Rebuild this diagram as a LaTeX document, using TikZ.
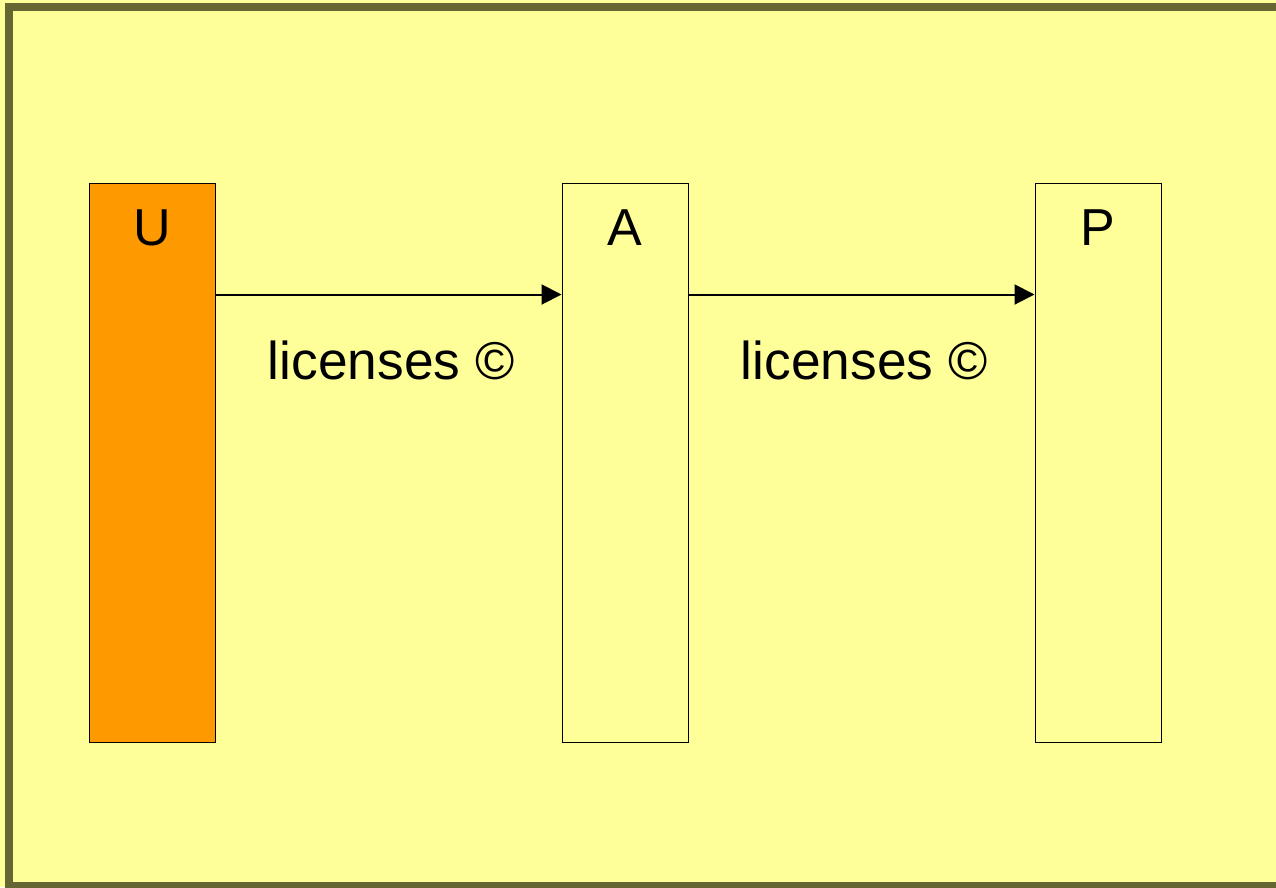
\documentclass[tikz,border=0pt]{standalone}
\usepackage{fontspec}
\setmainfont{Liberation Sans}
\usetikzlibrary{arrows.meta, positioning, calc}

\definecolor{paleyellow}{HTML}{FFFF99}
\definecolor{licorange}{HTML}{FF9900}
\definecolor{frameolive}{HTML}{666633}

\tikzset{
  party/.style={draw, line width=1.5pt, minimum width=126pt, minimum height=559pt, inner sep=0pt},
  partyname/.style={font=\fontsize{52}{52}\selectfont, inner sep=0pt, anchor=north},
  licence/.style={font=\fontsize{53.3}{53.3}\selectfont, inner sep=0pt, anchor=base},
  grant/.style={line width=2pt, -{Triangle[length=20pt,width=20pt]}}
}

\begin{document}
\begin{tikzpicture}[x=1pt, y=-1pt]
                        \useasboundingbox (0,0) rectangle (1276,887);
                        \fill[paleyellow] (0,0) rectangle (1276,887);
                        \begin{scope}
                        \clip (0,0) rectangle (1276,887);
                        \draw[frameolive, line width=8pt] (9,7) rectangle (1300,886);
                        \end{scope}

                        \node[party, fill=licorange, anchor=north west] (U) at (88.5,182.5) {};
                        \node[party, fill=paleyellow, anchor=north west] (A) at (561.5,182.5) {};
                        \node[party, fill=paleyellow, anchor=north west] (P) at (1034.5,182.5) {};

                        \node[partyname] (Un) at ($(U.north)+(0,27)$) {U};
                        \node[partyname] (An) at ($(A.north)+(0,27)$) {A};
                        \node[partyname] (Pn) at ($(P.north)+(0,27)$) {P};

                        \draw[grant] ([yshift=-112pt]U.north east) -- ([yshift=-112pt]A.north west);
                        \draw[grant] ([yshift=-112pt]A.north east) -- ([yshift=-112pt]P.north west);

                        \node[licence] (l1) at ($(U.east)!0.5!(A.west)+(2.5,-83)$) {licenses ©};
                        \node[licence] (l2) at ($(A.east)!0.5!(P.west)+(2.5,-83)$) {licenses ©};
                    \end{tikzpicture}
\end{document}
